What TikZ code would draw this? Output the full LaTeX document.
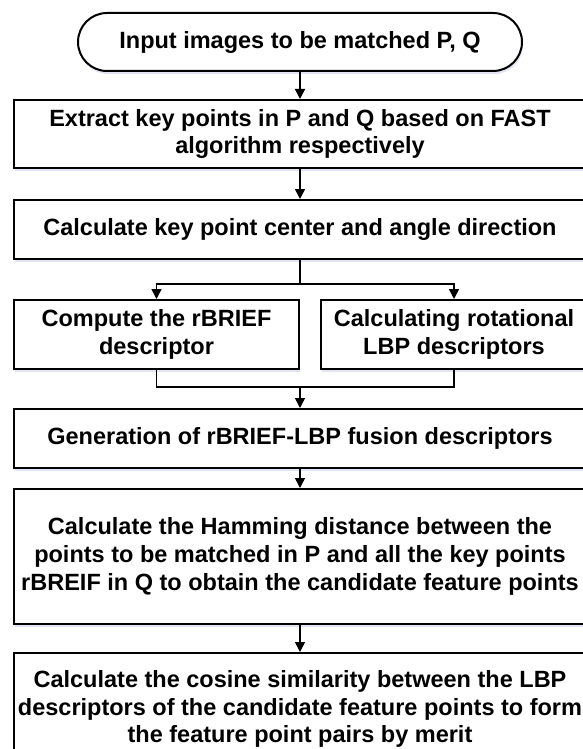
\documentclass[tikz,border=0pt]{standalone}
\usepackage{fontspec}
\setmainfont{Liberation Sans}
\usetikzlibrary{arrows.meta,shapes.misc,shadows}

\begin{document}
\begin{tikzpicture}[x=1pt,y=-1pt,
  box/.style={draw,line width=2pt,fill=white,inner sep=0pt,align=center,
    font=\fontsize{23.5}{27.7}\selectfont\bfseries,
    drop shadow={shadow xshift=1pt,shadow yshift=-3pt,fill=cyan!30!blue!25,opacity=.45}},
  flow/.style={line width=1.5pt,-{Triangle[length=10pt,width=10pt]}},
  link/.style={line width=1.5pt}]

\useasboundingbox (0,0) rectangle (583,749);
\clip (0,0) rectangle (583,749);

%Boxes
\node[box,rounded rectangle,minimum width=444pt,minimum height=58pt] (input) at (300,42) {Input images to be matched P, Q};
\node[box,minimum width=573pt,minimum height=68pt] (fast) at (300,134) {Extract key points in P and Q based on FAST\\algorithm respectively};
\node[box,minimum width=573pt,minimum height=59pt] (angle) at (300,229.5) {Calculate key point center and angle direction};

\node[box,minimum width=285pt,minimum height=69pt] (rbrief) at (156.5,334.5) {Compute the rBRIEF\\descriptor};
\node[box,minimum width=266pt,minimum height=69pt] (lbp) at (454,334.5) {Calculating rotational\\LBP descriptors};

\node[box,minimum width=573pt,minimum height=59pt] (fusion) at (300,438.5) {Generation of rBRIEF-LBP fusion descriptors};
\node[box,minimum width=573pt,minimum height=135pt] (hamming) at (300,556.5) {Calculate the Hamming distance between the\\points to be matched in P and all the key points\\rBREIF in Q to obtain the candidate feature points};
\node[box,minimum width=573pt,minimum height=112pt] (cosine) at (300,709) {Calculate the cosine similarity between the LBP\\descriptors of the candidate feature points to form\\the feature point pairs by merit};

%Arrows
\draw[flow] (input) -- (fast); \draw[flow] (fast) -- (angle);

\coordinate (split) at (300,284); \coordinate (merge) at (300,387);
\draw[link] (angle) -- (split);
\draw[flow] (split) -| (rbrief.north); \draw[flow] (split) -| (lbp.north);
\draw[link] (rbrief.south) |- (merge) -| (lbp.south);
\draw[flow] (merge) -- (fusion);

\draw[flow] (fusion) -- (hamming); \draw[flow] (hamming) -- (cosine);

\end{tikzpicture}
\end{document}
